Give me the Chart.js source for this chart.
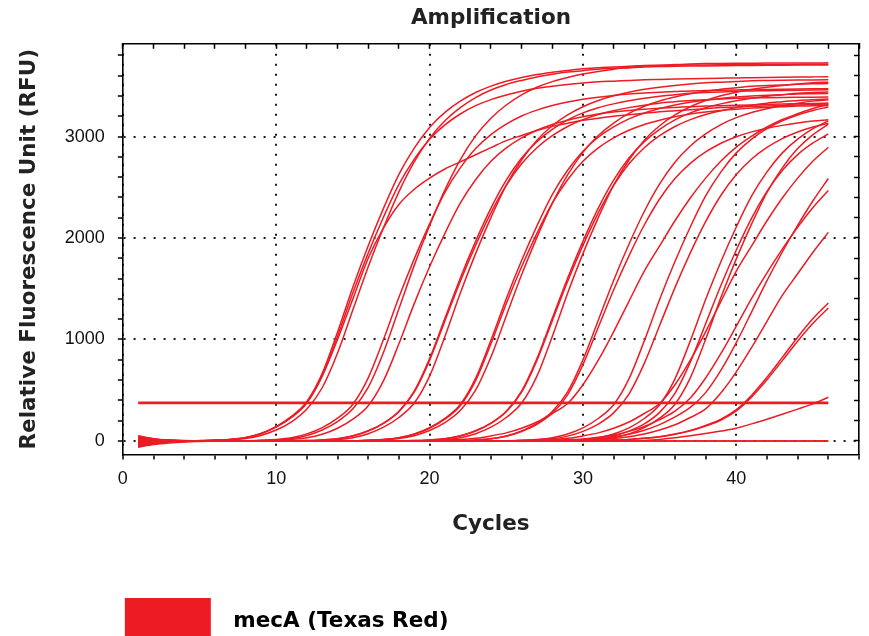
<!DOCTYPE html>
<html>
<head>
<meta charset="utf-8">
<title>Amplification</title>
<script src="https://cdn.jsdelivr.net/npm/chart.js@4.4.1/dist/chart.umd.min.js"></script>
<style>
  html, body { margin: 0; padding: 0; background: #fff; }
  #wrap { position: relative; width: 869px; height: 636px; }
</style>
</head>
<body>
<div id="wrap"><canvas id="amp"></canvas></div>
<script>
// cycle numbers (x)
const cycles = [1, 2, 3, 4, 5, 6, 7, 8, 9, 10, 11, 12, 13, 14, 15, 16, 17, 18, 19, 20, 21, 22, 23,
  24, 25, 26, 27, 28, 29, 30, 31, 32, 33, 34, 35, 36, 37, 38, 39, 40, 41, 42, 43, 44, 45, 46];

// RFU per cycle, one array per well
const wellA1 = [-45, -25, -10, -5, 0, 7, 15, 33, 74, 141, 241, 389, 666, 1073, 1517, 1924, 2294, 2627, 2886, 3090, 3238, 3349,
  3434, 3497, 3545, 3582, 3611, 3633, 3652, 3667, 3678, 3685, 3693, 3700, 3702, 3703, 3705, 3706, 3707, 3708, 3709, 3710, 3710, 3711, 3712, 3712];
const wellA2 = [20, 10, 5, 0, 0, 7, 14, 32, 71, 135, 231, 374, 641, 1032, 1460, 1851, 2207, 2528, 2777, 2973, 3115, 3222,
  3304, 3364, 3410, 3446, 3475, 3496, 3514, 3528, 3539, 3546, 3553, 3560, 3563, 3566, 3569, 3572, 3575, 3578, 3580, 3582, 3584, 3586, 3588, 3590];
const wellA3 = [-60, -30, -12, -4, 0, 4, 11, 24, 54, 107, 188, 314, 524, 867, 1292, 1716, 2103, 2454, 2749, 2982, 3155, 3284,
  3384, 3458, 3513, 3553, 3587, 3613, 3635, 3649, 3664, 3672, 3679, 3686, 3690, 3692, 3694, 3696, 3698, 3700, 3701, 3702, 3703, 3704, 3705, 3706];
const wellA4 = [30, 12, 4, 0, 3, 8, 15, 30, 70, 140, 240, 380, 640, 1000, 1400, 1800, 2100, 2330, 2480, 2590, 2680, 2750,
  2820, 2890, 2960, 3010, 3060, 3100, 3130, 3160, 3180, 3200, 3215, 3230, 3245, 3255, 3265, 3275, 3285, 3290, 3295, 3300, 3305, 3310, 3315, 3320];
const wellB1 = [-20, -10, -5, -2, 0, 0, 0, 0, 4, 11, 24, 54, 108, 190, 316, 528, 874, 1302, 1730, 2120, 2474, 2771,
  3006, 3181, 3311, 3411, 3486, 3541, 3582, 3616, 3642, 3664, 3679, 3694, 3701, 3709, 3716, 3720, 3721, 3722, 3723, 3724, 3724, 3725, 3725, 3726];
const wellB2 = [40, 18, 6, 2, 0, 0, 0, 0, 7, 14, 31, 69, 131, 224, 362, 621, 1001, 1415, 1794, 2139, 2450, 2691,
  2881, 3019, 3122, 3202, 3260, 3305, 3340, 3367, 3388, 3405, 3419, 3429, 3436, 3443, 3450, 3453, 3456, 3459, 3462, 3464, 3466, 3468, 3470, 3472];
const wellB3 = [-30, -15, -6, -2, 0, 0, 0, 0, 0, 7, 13, 30, 66, 125, 215, 347, 594, 957, 1353, 1716, 2046, 2343,
  2574, 2756, 2888, 2987, 3062, 3119, 3161, 3194, 3221, 3241, 3257, 3270, 3280, 3287, 3293, 3300, 3304, 3308, 3312, 3316, 3320, 3323, 3326, 3330];
const wellC1 = [10, 5, 0, 0, 0, 0, 0, 0, 0, 0, 0, 3, 10, 22, 50, 100, 176, 293, 490, 811, 1208, 1604,
  1967, 2294, 2570, 2788, 2950, 3071, 3164, 3233, 3284, 3322, 3353, 3378, 3398, 3412, 3426, 3433, 3440, 3447, 3450, 3452, 3454, 3456, 3458, 3460];
const wellC2 = [-35, -18, -8, -3, 0, 0, 0, 0, 0, 0, 0, 3, 10, 22, 49, 98, 172, 287, 480, 794, 1183, 1572,
  1927, 2248, 2518, 2731, 2890, 3008, 3099, 3167, 3218, 3255, 3285, 3309, 3329, 3343, 3356, 3363, 3370, 3377, 3380, 3382, 3384, 3386, 3388, 3390];
const wellC3 = [-15, -8, -3, 0, 0, 0, 0, 0, 0, 0, 0, 0, 7, 14, 32, 71, 135, 231, 373, 639, 1030, 1456,
  1846, 2201, 2521, 2769, 2964, 3106, 3213, 3294, 3355, 3401, 3436, 3465, 3486, 3504, 3518, 3529, 3536, 3543, 3550, 3552, 3554, 3556, 3558, 3560];
const wellD1 = [25, 10, 3, 0, 0, 0, 0, 0, 0, 0, 0, 0, 0, 0, 0, 7, 14, 31, 68, 130, 222, 359,
  616, 992, 1402, 1778, 2120, 2428, 2668, 2856, 2993, 3095, 3174, 3232, 3276, 3311, 3338, 3358, 3376, 3389, 3399, 3406, 3413, 3420, 3422, 3424];
const wellD2 = [-50, -25, -10, -4, 0, 0, 0, 0, 0, 0, 0, 0, 0, 0, 0, 7, 13, 30, 66, 125, 215, 347,
  594, 957, 1353, 1716, 2046, 2343, 2574, 2756, 2888, 2987, 3062, 3119, 3161, 3194, 3221, 3241, 3257, 3270, 3280, 3287, 3293, 3300, 3303, 3306];
const wellD3 = [5, 0, 0, 0, 0, 0, 0, 0, 0, 0, 0, 0, 0, 0, 0, 4, 11, 23, 51, 102, 180, 299,
  500, 827, 1232, 1637, 2006, 2341, 2622, 2844, 3010, 3133, 3228, 3298, 3351, 3390, 3421, 3446, 3467, 3481, 3495, 3502, 3509, 3516, 3520, 3522];
const wellE1 = [-25, -12, -5, 0, 0, 0, 0, 0, 0, 0, 0, 0, 0, 0, 0, 0, 0, 0, 3, 10, 22, 50,
  100, 176, 293, 490, 811, 1208, 1604, 1967, 2294, 2570, 2788, 2950, 3071, 3164, 3233, 3284, 3322, 3353, 3378, 3398, 3412, 3426, 3433, 3440];
const wellE2 = [35, 15, 5, 0, 0, 0, 0, 0, 0, 0, 0, 0, 0, 0, 0, 0, 0, 0, 3, 10, 22, 49,
  98, 172, 287, 480, 794, 1183, 1572, 1927, 2248, 2518, 2731, 2890, 3008, 3099, 3167, 3218, 3255, 3285, 3309, 3329, 3343, 3356, 3363, 3370];
const wellE3 = [-10, -5, 0, 0, 0, 0, 0, 0, 0, 0, 0, 0, 0, 0, 0, 0, 0, 0, 0, 7, 14, 32,
  71, 135, 231, 373, 639, 1030, 1456, 1846, 2201, 2521, 2769, 2964, 3106, 3213, 3294, 3355, 3401, 3436, 3465, 3486, 3504, 3518, 3529, 3536];
const wellF1 = [15, 8, 2, 0, 0, 0, 0, 0, 0, 0, 0, 0, 0, 0, 0, 0, 0, 0, 0, 0, 0, 3,
  10, 22, 49, 99, 173, 289, 483, 799, 1190, 1581, 1938, 2261, 2533, 2747, 2907, 3026, 3118, 3186, 3237, 3274, 3305, 3329, 3349, 3363];
const wellF2 = [-40, -20, -8, -3, 0, 0, 0, 0, 0, 0, 0, 0, 0, 0, 0, 0, 0, 0, 0, 0, 0, 3,
  10, 21, 46, 93, 163, 272, 454, 752, 1120, 1488, 1824, 2128, 2384, 2586, 2736, 2848, 2934, 2998, 3046, 3082, 3110, 3133, 3152, 3165];
const wellF3 = [0, 0, 0, 0, 0, 0, 0, 0, 0, 0, 0, 0, 0, 0, 0, 0, 0, 0, 0, 4, 11, 14,
  26, 49, 79, 124, 186, 270, 368, 553, 795, 1075, 1376, 1673, 1922, 2170, 2394, 2590, 2758, 2895, 3003, 3094, 3168, 3224, 3276, 3315];
const wellG1 = [50, 22, 8, 2, 0, 0, 0, 0, 0, 0, 0, 0, 0, 0, 0, 0, 0, 0, 0, 0, 0, 0,
  0, 0, 0, 7, 14, 31, 68, 129, 221, 357, 612, 986, 1394, 1768, 2108, 2414, 2652, 2839, 2975, 3077, 3155, 3213, 3257, 3291];
const wellG2 = [-20, -10, -4, 0, 0, 0, 0, 0, 0, 0, 0, 0, 0, 0, 0, 0, 0, 0, 0, 0, 0, 0,
  0, 0, 0, 3, 10, 21, 47, 94, 166, 276, 462, 764, 1138, 1511, 1853, 2161, 2421, 2626, 2779, 2893, 2980, 3045, 3094, 3130];
const wellH1 = [-30, -15, -5, 0, 0, 0, 0, 0, 0, 0, 0, 0, 0, 0, 0, 0, 0, 0, 0, 0, 0, 0,
  0, 0, 0, 0, 0, 0, 7, 14, 31, 68, 129, 221, 357, 612, 986, 1394, 1768, 2108, 2414, 2652, 2839, 2975, 3077, 3155];
const wellH2 = [20, 10, 3, 0, 0, 0, 0, 0, 0, 0, 0, 0, 0, 0, 0, 0, 0, 0, 0, 0, 0, 0,
  0, 0, 0, 0, 0, 0, 3, 10, 21, 48, 96, 168, 281, 469, 776, 1155, 1535, 1881, 2195, 2459, 2666, 2822, 2937, 3026];
const wellH3 = [-55, -30, -12, -5, 0, 0, 0, 0, 0, 0, 0, 0, 0, 0, 0, 0, 0, 0, 0, 0, 0, 0,
  0, 0, 0, 4, 11, 14, 26, 49, 79, 124, 186, 270, 368, 553, 795, 1075, 1376, 1673, 1922, 2170, 2394, 2590, 2758, 2895];
const wellH4 = [5, 0, 0, 0, 0, 0, 0, 0, 0, 0, 0, 0, 0, 0, 0, 0, 0, 0, 0, 0, 0, 0,
  0, 0, 0, 0, 0, 0, 0, 7, 14, 31, 69, 131, 224, 362, 621, 1001, 1415, 1794, 2139, 2450, 2691, 2881, 3019, 3122];
const wellI1 = [-15, -8, 0, 0, 0, 0, 0, 0, 0, 0, 0, 0, 0, 0, 0, 0, 0, 0, 0, 0, 0, 0,
  0, 0, 0, 0, 0, 0, 7, 13, 22, 40, 65, 105, 160, 236, 330, 476, 697, 969, 1271, 1579, 1862, 2124, 2367, 2586];
const wellI2 = [0, 0, 0, 0, 0, 0, 0, 0, 0, 0, 0, 0, 0, 0, 0, 0, 0, 0, 0, 0, 0, 0,
  0, 0, 0, 0, 0, 0, 3, 9, 12, 23, 42, 68, 107, 159, 231, 315, 474, 681, 921, 1179, 1434, 1647, 1860, 2055];
const wellI3 = [12, 6, 0, 0, 0, 0, 0, 0, 0, 0, 0, 0, 0, 0, 0, 0, 0, 0, 0, 0, 0, 0,
  0, 0, 0, 0, 0, 7, 12, 19, 35, 58, 94, 142, 210, 294, 423, 620, 862, 1131, 1405, 1657, 1890, 2106, 2300, 2468];
const wellJ1 = [-10, -5, 0, 0, 0, 0, 0, 0, 0, 0, 0, 0, 0, 0, 0, 0, 0, 0, 0, 0, 0, 0,
  0, 0, 0, 0, 0, 0, 0, 0, 5, 8, 14, 26, 42, 68, 103, 153, 214, 308, 451, 627, 823, 1022, 1206, 1360];
const wellJ2 = [0, 0, 0, 0, 0, 0, 0, 0, 0, 0, 0, 0, 0, 0, 0, 0, 0, 0, 0, 0, 0, 0,
  0, 0, 0, 0, 0, 0, 0, 0, 5, 8, 14, 25, 41, 66, 99, 147, 206, 296, 434, 603, 791, 983, 1159, 1310];
const wellK1 = [8, 4, 0, 0, 0, 0, 0, 0, 0, 0, 0, 0, 0, 0, 0, 0, 0, 0, 0, 0, 0, 0,
  0, 0, 0, 0, 0, 0, 0, 0, 0, 0, 0, 5, 15, 30, 50, 72, 97, 125, 168, 213, 262, 313, 365, 430];
const wellN1 = [-60, -35, -20, -10, -5, -2, 0, 0, 0, 0, 0, 0, 0, 0, 0, 0, 0, 0, 0, 0, 0, 0,
  0, 0, 0, 0, 0, 0, 0, 0, 0, 0, 0, 0, 0, 0, 0, 0, 0, 0, 0, 0, 0, 0, 0, 0];
const wellN2 = [45, 20, 8, 3, 1, 0, 0, 0, 0, 0, 0, 0, 0, 0, 0, 0, 0, 0, 0, 0, 0, 0,
  0, 0, 0, 0, 0, 0, 0, 0, 0, 0, 0, 0, 0, 0, 0, 0, 0, 0, 0, 0, 0, 0, 0, 0];

// threshold line
const thresholdCycles = [1, 46];
const thresholdRFU = 375;

// axis ticks: every tick mark, and the labelled ones
const xTicks = [0, 2, 4, 6, 8, 10, 12, 14, 16, 18, 20, 22, 24, 26, 28, 30, 32, 34, 36, 38, 40, 42, 44, 46, 48];
const xLabelTicks = [0, 10, 20, 30, 40];
const yTicks = [0, 200, 400, 600, 800, 1000, 1200, 1400, 1600, 1800, 2000, 2200, 2400, 2600, 2800,
  3000, 3200, 3400, 3600, 3800];
const yLabelTicks = [0, 1000, 2000, 3000];

const wells = [wellA1, wellA2, wellA3, wellA4, wellB1, wellB2, wellB3, wellC1, wellC2, wellC3,
  wellD1, wellD2, wellD3, wellE1, wellE2, wellE3, wellF1, wellF2, wellF3, wellG1, wellG2,
  wellH1, wellH2, wellH3, wellH4, wellI1, wellI2, wellI3, wellJ1, wellJ2, wellK1, wellN1, wellN2];

const RED = 'rgb(237, 28, 36)';
const INK = '#222';
const TITLE_FONT = '"DejaVu Sans", "Open Sans", sans-serif';
const TICK_FONT = '"Liberation Sans", Arial, sans-serif';

const datasets = wells.map(w => ({
  data: w.map((v, i) => ({x: cycles[i], y: v})),
  borderColor: RED,
  borderWidth: 1.5,
  pointRadius: 0,
  cubicInterpolationMode: 'monotone',
  fill: false
}));
datasets.push({
  data: thresholdCycles.map(c => ({x: c, y: thresholdRFU})),
  borderColor: RED,
  borderWidth: 2.6,
  pointRadius: 0,
  fill: false
});

const majorX = v => xLabelTicks.includes(v);
const majorY = v => yLabelTicks.includes(v);
const setTicks = list => scale => { scale.ticks = list.map(v => ({value: v})); };

new Chart(document.getElementById('amp'), {
  type: 'line',
  data: {datasets: datasets},
  options: {
    responsive: true,
    maintainAspectRatio: false,
    animation: false,
    events: [],
    layout: {padding: {left: 10, right: 10, top: 0, bottom: -18}},
    plugins: {
      title: {
        display: true,
        text: 'Amplification',
        color: INK,
        fullSize: false,
        font: {family: TITLE_FONT, size: 21.5, weight: 'bold'},
        padding: {top: 6, bottom: 11}
      },
      legend: {
        position: 'bottom',
        align: 'start',
        fullSize: false,
        labels: {
          boxWidth: 86,
          boxHeight: 46,
          padding: 2,
          color: INK,
          font: {family: TITLE_FONT, size: 21.5, weight: 'bold'},
          generateLabels: () => [{
            text: ' \u2009mecA (Texas Red)',
            fillStyle: RED,
            strokeStyle: RED,
            lineWidth: 0,
            hidden: false,
            datasetIndex: 0
          }]
        }
      },
      tooltip: {enabled: false}
    },
    scales: {
      x: {
        type: 'linear',
        position: 'bottom',
        min: 0,
        max: 48,
        afterBuildTicks: setTicks(xTicks),
        ticks: {
          autoSkip: false,
          maxRotation: 0,
          padding: 9,
          color: '#111',
          font: {family: TICK_FONT, size: 18},
          callback: v => majorX(v) ? String(v) : ''
        },
        grid: {
          color: ctx => (ctx.tick && majorX(ctx.tick.value)) ? '#1b1b1b' : 'rgba(0,0,0,0)',
          lineWidth: 2,
          tickColor: '#000',
          tickWidth: 1.5,
          tickLength: 5
        },
        border: {color: '#000', width: 1.6, dash: [2, 8]},
        title: {
          display: true,
          text: 'Cycles',
          color: INK,
          font: {family: TITLE_FONT, size: 21.5, weight: 'bold'},
          padding: {top: 12, bottom: 59}
        }
      },
      // top frame with inward ticks; the empty title keeps its box height at 1px
      x2: {
        type: 'linear',
        position: 'top',
        min: 0,
        max: 48,
        afterBuildTicks: setTicks(xTicks),
        ticks: {display: false},
        grid: {drawOnChartArea: false, tickColor: '#000', tickWidth: 1.5, tickLength: -5},
        border: {color: '#000', width: 1.6},
        title: {display: true, text: '', padding: 0, font: {size: 5}}
      },
      y: {
        type: 'linear',
        position: 'left',
        min: -135,
        max: 3914,
        afterBuildTicks: setTicks(yTicks),
        ticks: {
          autoSkip: false,
          padding: 13,
          color: '#111',
          font: {family: TICK_FONT, size: 18},
          callback: v => majorY(v) ? String(v) : ''
        },
        grid: {
          color: ctx => (ctx.tick && majorY(ctx.tick.value)) ? '#1b1b1b' : 'rgba(0,0,0,0)',
          lineWidth: 2,
          tickColor: '#000',
          tickWidth: 1.5,
          tickLength: 5
        },
        border: {color: '#000', width: 1.6, dash: [2, 8]},
        title: {
          display: true,
          text: 'Relative Fluorescence Unit (RFU)',
          color: INK,
          font: {family: TITLE_FONT, size: 21.5, weight: 'bold'},
          padding: {top: 7, bottom: 9}
        }
      },
      y2: {
        type: 'linear',
        position: 'right',
        min: -135,
        max: 3914,
        afterBuildTicks: setTicks(yTicks),
        ticks: {display: false},
        grid: {drawOnChartArea: false, tickColor: '#000', tickWidth: 1.5, tickLength: -5},
        border: {color: '#000', width: 1.6}
      }
    }
  }
});
</script>
</body>
</html>
